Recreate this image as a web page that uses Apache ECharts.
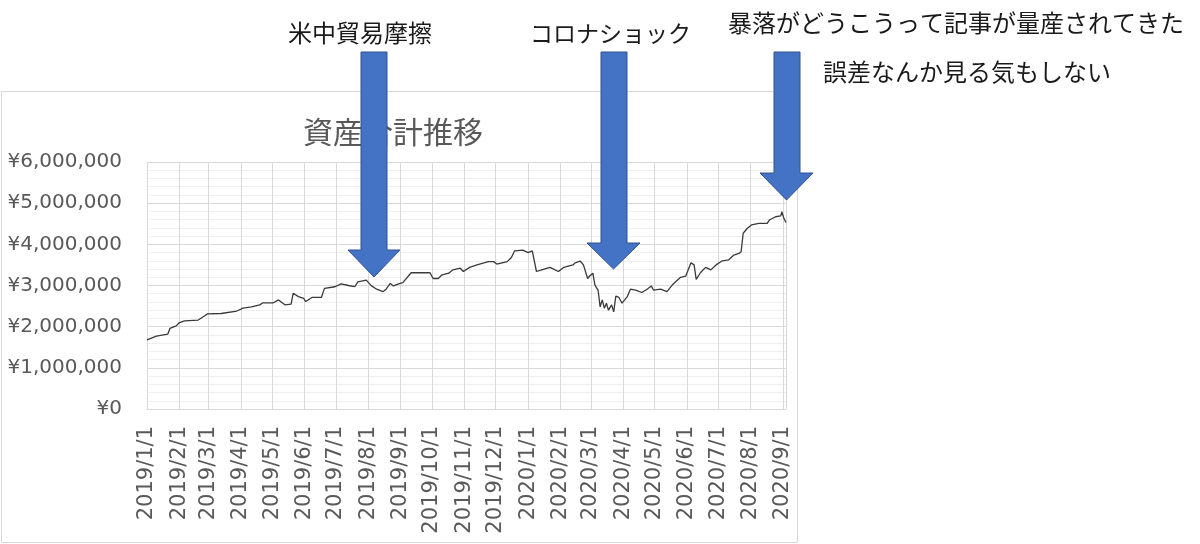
<!DOCTYPE html>
<html>
<head>
<meta charset="utf-8">
<script src="https://cdn.jsdelivr.net/npm/echarts@6/dist/echarts.min.js"></script>
<style>
  html, body { margin: 0; padding: 0; background: #fff; }
  #chart { width: 1200px; height: 544px; }
</style>
</head>
<body>
<div id="chart"></div>
<script>
// 資産合計 (daily-ish samples)
const dates = [
  '2019-01-01','2019-01-10','2019-01-21','2019-01-23','2019-01-29','2019-02-01','2019-02-06','2019-02-19',
  '2019-02-25','2019-02-28','2019-03-13','2019-03-28','2019-04-03','2019-04-11','2019-04-19','2019-04-22',
  '2019-05-02','2019-05-07','2019-05-13','2019-05-19','2019-05-21','2019-05-26','2019-05-31','2019-06-02',
  '2019-06-08','2019-06-17','2019-06-20','2019-06-30','2019-07-06','2019-07-13','2019-07-19','2019-07-22',
  '2019-07-30','2019-08-04','2019-08-09','2019-08-15','2019-08-18','2019-08-22','2019-08-25','2019-08-30',
  '2019-09-03','2019-09-11','2019-09-19','2019-09-29','2019-10-02','2019-10-07','2019-10-10','2019-10-17',
  '2019-10-21','2019-10-28','2019-10-31','2019-11-06','2019-11-13','2019-11-24','2019-11-29','2019-12-02',
  '2019-12-12','2019-12-16','2019-12-19','2019-12-27','2020-01-01','2020-01-05','2020-01-09','2020-01-14',
  '2020-01-22','2020-01-30','2020-02-04','2020-02-13','2020-02-15','2020-02-20','2020-02-23','2020-02-27',
  '2020-02-29','2020-03-03','2020-03-05','2020-03-08','2020-03-10','2020-03-12','2020-03-14','2020-03-16',
  '2020-03-18','2020-03-21','2020-03-23','2020-03-25','2020-03-28','2020-03-31','2020-04-05','2020-04-08',
  '2020-04-13','2020-04-19','2020-04-24','2020-04-28','2020-04-30','2020-05-07','2020-05-13','2020-05-18',
  '2020-05-26','2020-05-31','2020-06-05','2020-06-08','2020-06-10','2020-06-14','2020-06-19','2020-06-24',
  '2020-06-29','2020-07-05','2020-07-11','2020-07-16','2020-07-21','2020-07-23','2020-07-25','2020-07-29',
  '2020-08-02','2020-08-09','2020-08-17','2020-08-19','2020-08-25','2020-08-30','2020-08-31','2020-09-02',
  '2020-09-04'
];
const totals = [
  1680000,1770000,1820000,1960000,2020000,2100000,2140000,2160000,
  2260000,2310000,2320000,2380000,2450000,2480000,2530000,2580000,
  2580000,2650000,2530000,2550000,2810000,2730000,2690000,2610000,
  2710000,2710000,2930000,2970000,3040000,3000000,2970000,3090000,
  3130000,2990000,2910000,2850000,2910000,3050000,2990000,3040000,
  3070000,3310000,3310000,3310000,3170000,3170000,3250000,3300000,
  3380000,3420000,3340000,3440000,3500000,3580000,3580000,3520000,
  3580000,3680000,3840000,3860000,3800000,3840000,3340000,3380000,
  3440000,3340000,3440000,3500000,3550000,3590000,3500000,3170000,
  3230000,3300000,3010000,2890000,2480000,2650000,2450000,2570000,
  2400000,2530000,2360000,2740000,2710000,2570000,2730000,2910000,
  2890000,2830000,2910000,2990000,2890000,2910000,2850000,3010000,
  3200000,3230000,3550000,3500000,3150000,3310000,3440000,3380000,
  3500000,3600000,3620000,3740000,3780000,3820000,4270000,4390000,
  4470000,4510000,4510000,4590000,4670000,4690000,4790000,4630000,
  4530000
];
const axisStart = '2019-01-01';
const axisEnd = '2020-09-04';

const title = '資産合計推移';
const notes = [
  { text: '米中貿易摩擦', x: 288, y: 33, size: 24 },
  { text: 'コロナショック', x: 530, y: 33, size: 23 },
  { text: '暴落がどうこうって記事が量産されてきた', x: 728, y: 23, size: 24 },
  { text: '誤差なんか見る気もしない', x: 823, y: 72, size: 24 }
];

// down arrows: shaft left/right, top, head base y, head left/right, tip y
function arrow(x1, x2, top, base, hx1, hx2, tip) {
  const mid = (hx1 + hx2) / 2;
  return {
    type: 'polygon',
    z: 100,
    shape: { points: [[x1, top], [x2, top], [x2, base], [hx2, base], [mid, tip], [hx1, base], [x1, base]] },
    style: { fill: '#4472C4', stroke: '#2F528F', lineWidth: 1 }
  };
}

const chart = echarts.init(document.getElementById('chart'));

const graphics = [
  { type: 'rect', z: -10, shape: { x: 1.5, y: 91.5, width: 796, height: 451 },
    style: { fill: '#fff', stroke: '#d9d9d9', lineWidth: 1 } },
  { type: 'text', z: 5, x: 393, y: 132,
    style: { text: title, fontSize: 30, fontFamily: 'Noto Sans CJK JP', fill: '#595959',
             align: 'center', verticalAlign: 'middle' } },
  arrow(361, 387, 52, 250, 348, 400, 277),
  arrow(601, 627, 52, 243, 587, 640, 269),
  arrow(774, 800, 52, 173, 760, 813, 200)
];
notes.forEach(n => {
  graphics.push({ type: 'text', z: 100, x: n.x, y: n.y,
    style: { text: n.text, fontSize: n.size, fontFamily: 'Noto Sans CJK JP', fill: '#1a1a1a',
             align: 'left', verticalAlign: 'middle' } });
});

chart.setOption({
  animation: false,
  grid: { left: 147, right: 414, top: 162, bottom: 135, outerBoundsMode: 'none' },
  xAxis: {
    type: 'time',
    min: axisStart,
    max: axisEnd,
    splitNumber: 20,
    axisLine: { lineStyle: { color: '#d9d9d9' } },
    axisTick: { show: false },
    splitLine: { show: true, lineStyle: { color: '#d9d9d9' } },
    axisLabel: {
      rotate: 90,
      margin: 17,
      fontSize: 21,
      fontFamily: 'DejaVu Sans',
      color: '#595959',
      hideOverlap: false,
      formatter: function (v) {
        const d = new Date(v);
        return d.getFullYear() + '/' + (d.getMonth() + 1) + '/' + d.getDate();
      }
    }
  },
  yAxis: {
    type: 'value',
    min: 0,
    max: 6000000,
    interval: 1000000,
    axisLine: { show: false },
    axisTick: { show: false },
    splitLine: { lineStyle: { color: '#d9d9d9' } },
    minorTick: { show: false, splitNumber: 5 },
    minorSplitLine: { show: true, lineStyle: { color: '#efefef' } },
    axisLabel: {
      margin: 25,
      fontSize: 20,
      fontFamily: 'DejaVu Sans',
      color: '#595959',
      formatter: v => '¥' + v.toLocaleString('en-US')
    }
  },
  series: [{
    type: 'line',
    data: dates.map((d, i) => [d, totals[i]]),
    showSymbol: false,
    lineStyle: { color: '#3a3a3a', width: 1.3 }
  }],
  graphic: graphics
});
</script>
</body>
</html>
